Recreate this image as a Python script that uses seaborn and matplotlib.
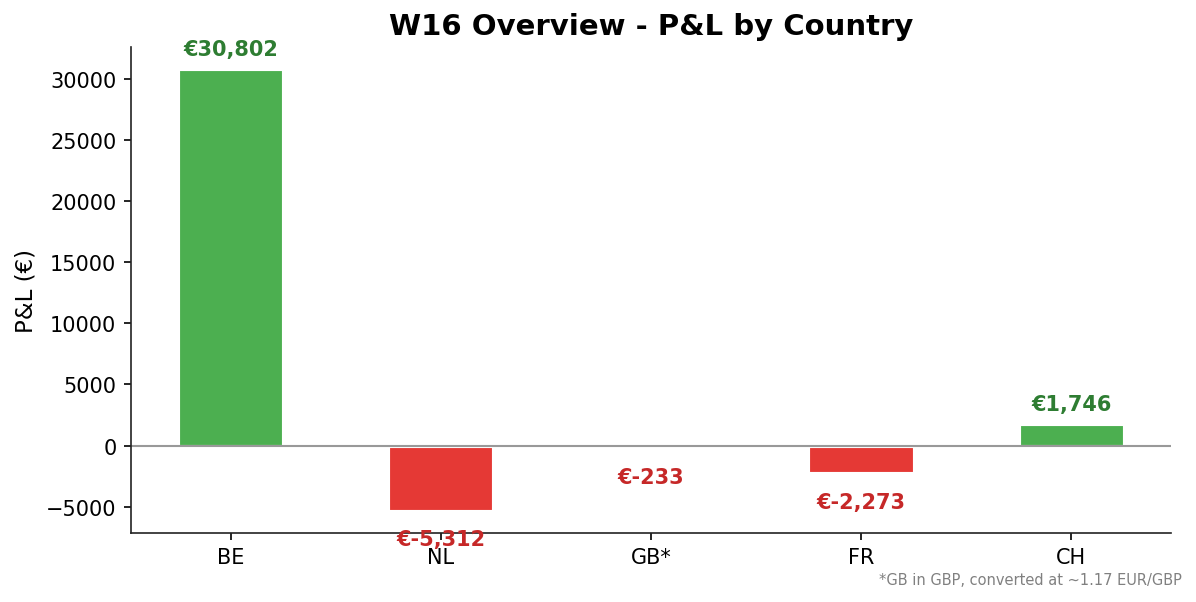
import numpy as np
import pandas as pd
import seaborn as sns
import matplotlib.pyplot as plt

countries = ["BE", "NL", "GB*", "FR", "CH"]
pnl = [30802, -5312, -233, -2273, 1746]
title = "W16 Overview - P&L by Country"
footnote = "*GB in GBP, converted at ~1.17 EUR/GBP"

df = pd.DataFrame({"country": countries, "pnl": pnl})
df["sign"] = np.where(df["pnl"] >= 0, "pos", "neg")

bar_colors = {"pos": "#4CAF50", "neg": "#E53935"}
text_colors = {"pos": "#2E7D32", "neg": "#C62828"}

sns.set_style("ticks")
fig, ax = plt.subplots(figsize=(1196 / 150, 603 / 150), dpi=150)
fig.subplots_adjust(left=0.1095, right=0.979, top=0.921, bottom=0.115)

sns.barplot(data=df, x="country", y="pnl", hue="sign", palette=bar_colors,
            order=countries, width=0.5, dodge=False, legend=False,
            saturation=1, edgecolor="white", linewidth=1.5, ax=ax)

ax.axhline(0, color="#999999", linewidth=1)

for i, row in df.iterrows():
    if row["pnl"] >= 0:
        y = row["pnl"] + 1650
    else:
        y = row["pnl"] - 2330
    ax.text(i, y, f"€{row['pnl']:,}", ha="center", va="center",
            fontsize=10, fontweight="bold", color=text_colors[row["sign"]])

ax.set_xlim(-0.475, 4.475)
ax.set_ylim(-7115, 32615)
ax.set_title(title, fontsize=14, fontweight="bold", color="black")
ax.set_xlabel("")
ax.set_ylabel("P&L (€)", fontsize=11, color="black")
ax.tick_params(labelsize=10, colors="black")
for s in ax.spines.values():
    s.set_color("#222222")
sns.despine(ax=ax)

fig.text(0.988, 0.037, footnote, ha="right", va="center", fontsize=7, color="gray")

plt.savefig("out.png", dpi=150)
